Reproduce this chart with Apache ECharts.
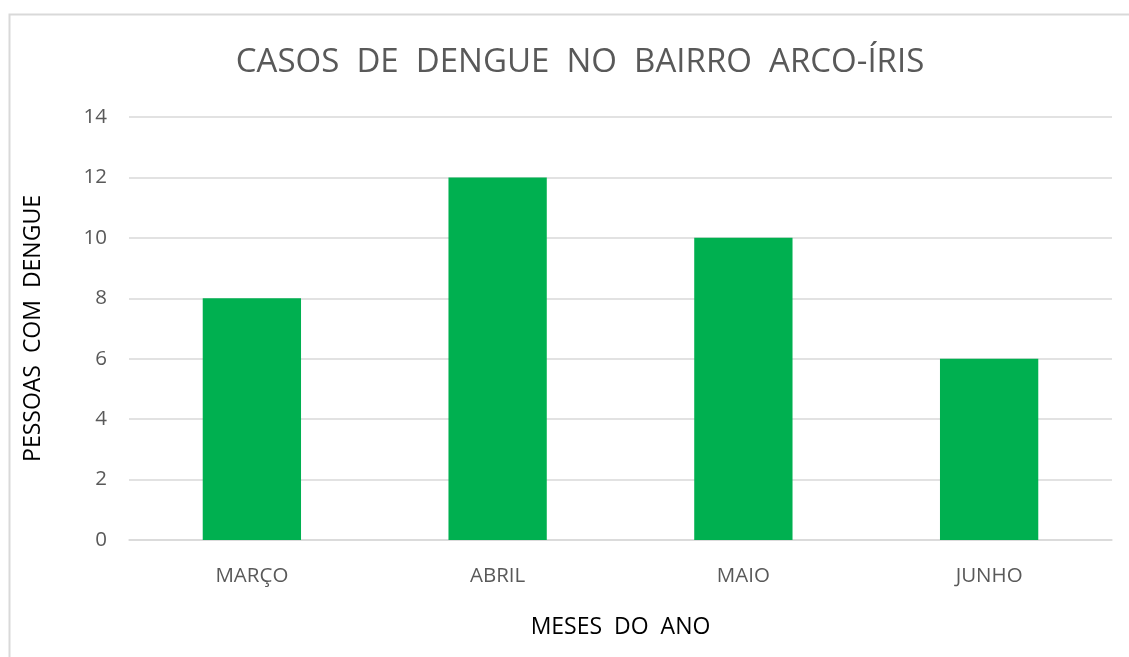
<!DOCTYPE html>
<html><head><meta charset="utf-8">
<script src="https://cdn.jsdelivr.net/npm/echarts@6/dist/echarts.min.js"></script>
<style>html,body{margin:0;padding:0;background:#fff}#c{width:1129px;height:657px}</style>
</head><body><div id="c"></div>
<script>
const categories = ['MARÇO', 'ABRIL', 'MAIO', 'JUNHO'];
const cases = [8, 12, 10, 6];
const yTicks = [0, 2, 4, 6, 8, 10, 12, 14];

const chart = echarts.init(document.getElementById('c'), null, {renderer: 'canvas'});
const FONT = '"Open Sans", "Noto Sans", sans-serif';
chart.setOption({
  animation: false,
  backgroundColor: '#ffffff',
  graphic: [{
    type: 'rect', shape: {x: 9.5, y: 14.5, width: 1200, height: 700},
    style: {fill: 'none', stroke: '#d9d9d9', lineWidth: 2}, silent: true
  }],
  title: {
    text: 'CASOS  DE  DENGUE  NO  BAIRRO  ARCO-ÍRIS',
    left: 575, top: 41, textAlign: 'center',
    textStyle: {fontFamily: FONT, fontSize: 33, fontWeight: 'normal', color: '#595959'}
  },
  grid: {left: 129, right: 17, top: 117, bottom: 117, containLabel: false},
  xAxis: {
    type: 'category', data: categories,
    name: 'MESES  DO  ANO', nameLocation: 'middle', nameGap: 76,
    nameTextStyle: {fontFamily: FONT, fontSize: 23, color: '#000000'},
    axisLine: {show: true, lineStyle: {color: '#d9d9d9', width: 1.5}},
    axisTick: {show: false},
    axisLabel: {fontFamily: FONT, fontSize: 20.5, color: '#595959', margin: 26}
  },
  yAxis: {
    type: 'value', min: yTicks[0], max: yTicks[yTicks.length - 1], interval: 2,
    name: 'PESSOAS  COM  DENGUE', nameLocation: 'middle', nameGap: 84, nameRotate: 90,
    nameTextStyle: {fontFamily: FONT, fontSize: 23, color: '#000000'},
    axisLine: {show: false}, axisTick: {show: false},
    axisLabel: {fontFamily: FONT, fontSize: 20.5, color: '#595959', margin: 22},
    splitLine: {lineStyle: {color: '#d9d9d9', width: 1.5}}
  },
  series: [{
    type: 'bar', data: cases, barWidth: '40%',
    itemStyle: {color: '#00b050'}
  }]
});
</script></body></html>
